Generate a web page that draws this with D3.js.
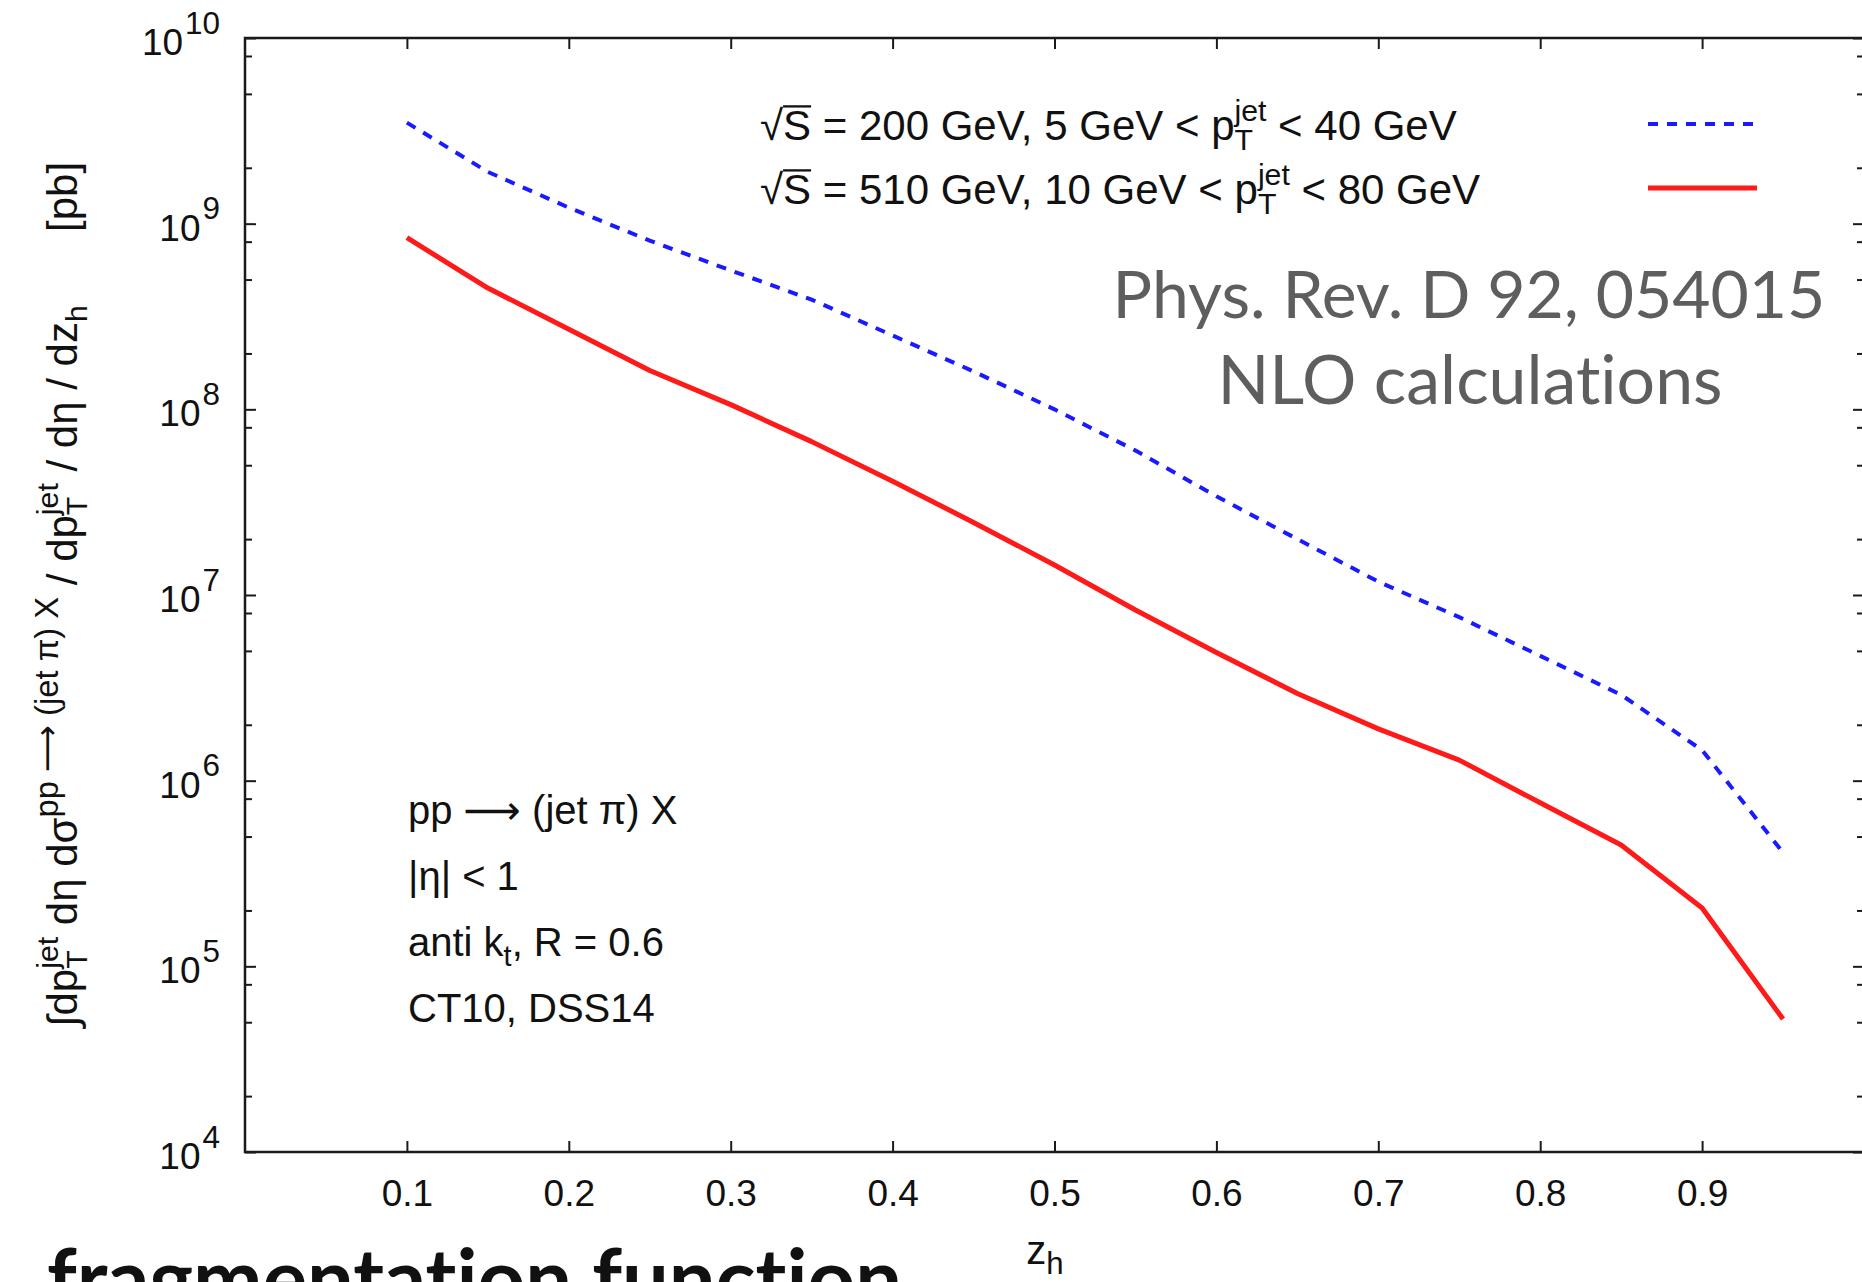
<!DOCTYPE html>
<html>
<head>
<meta charset="utf-8">
<script src="https://cdn.jsdelivr.net/npm/d3@7"></script>
<style>
  html, body { margin: 0; padding: 0; background: #fff; }
  svg { display: block; }
  text { white-space: pre; font-variant-ligatures: none; }
  .gp { font-family: "Liberation Sans", Arial, Helvetica, sans-serif; fill: #111; }
  .gill { font-family: Lato, "Open Sans", sans-serif; }
</style>
</head>
<body>
<svg id="chart" width="1862" height="1282"></svg>
<script>
// z_h grid of the NLO calculation
const zh = [0.10, 0.15, 0.20, 0.25, 0.30, 0.35, 0.40, 0.45, 0.50,
            0.55, 0.60, 0.65, 0.70, 0.75, 0.80, 0.85, 0.90, 0.95];

// sqrt(S) = 200 GeV, 5 GeV < pT(jet) < 40 GeV   [pb]
const sigma200 = [3.5e9, 1.9e9, 1.22e9, 8.1e8, 5.6e8, 3.9e8, 2.5e8, 1.6e8, 1.0e8,
                  6.0e7, 3.4e7, 2.0e7, 1.18e7, 7.6e6, 4.7e6, 2.9e6, 1.46e6, 4.1e5];

// sqrt(S) = 510 GeV, 10 GeV < pT(jet) < 80 GeV  [pb]
const sigma510 = [8.4e8, 4.5e8, 2.7e8, 1.62e8, 1.06e8, 6.7e7, 4.1e7, 2.46e7, 1.45e7,
                  8.3e6, 4.9e6, 2.95e6, 1.9e6, 1.29e6, 7.6e5, 4.5e5, 2.06e5, 5.2e4];

const xTicks = [0.1, 0.2, 0.3, 0.4, 0.5, 0.6, 0.7, 0.8, 0.9];
const yTickExponents = [4, 5, 6, 7, 8, 9, 10];
const yMinorMantissas = [2, 5, 8];

const ARROW = {t: "\u27f6", fam: "DejaVu Sans"};
const infoLines = [
  ["pp ", ARROW, " (jet \u03c0) X"],
  ["|\u03b7| < 1"],
  ["anti k", {sub: "t"}, ", R = 0.6"],
  ["CT10, DSS14"]
];

const svg = d3.select("#chart");

const plotL = 245, plotR = 1864, plotT = 38, plotB = 1152;
const x = d3.scaleLinear().domain([0, 1]).range([plotL, plotR]);
const y = d3.scaleLog().domain([1e4, 1e10]).range([plotB, plotT]);

// Text with raised pieces and stacked sub/superscripts, laid out piece by piece.
function rich(parent, segs, o) {
  const size = o.size;
  const g = parent.append("g").attr("class", o.cls || "gp");
  let cx = 0;
  const put = (txt, px, py, fs, fam) => {
    const el = g.append("text").attr("x", px).attr("y", py).attr("font-size", fs).text(txt);
    if (fam) el.attr("font-family", fam);
    return el.node().getComputedTextLength();
  };
  segs.forEach(s => {
    if (typeof s === "string") s = {t: s};
    if (s.t !== undefined) {
      const fs = size * (s.scale || 1);
      const py = -size * (s.raise || 0);
      const w = put(s.t, cx, py, fs, s.fam);
      if (s.over) {
        g.append("line").attr("x1", cx).attr("x2", cx + w)
          .attr("y1", -size * 0.80).attr("y2", -size * 0.80)
          .attr("stroke", "#111").attr("stroke-width", size * 0.055);
      }
      cx += w;
    } else {
      const ss = size * (s.scale || 0.72);
      const x0 = cx + (s.gap || 0);
      let w = 0;
      if (s.sup) w = Math.max(w, put(s.sup, x0, -size * (s.supRaise || 0.45), ss));
      if (s.sub) w = Math.max(w, put(s.sub, x0, size * 0.24, ss));
      cx = x0 + w;
    }
  });
  const shift = o.anchor === "end" ? -cx : o.anchor === "middle" ? -cx / 2 : 0;
  let tr = `translate(${o.x},${o.y})`;
  if (o.rotate) tr += ` rotate(${o.rotate})`;
  tr += ` translate(${shift},0)`;
  g.attr("transform", tr);
  return cx;
}

// ---- tick marks (inward on all four sides) ----
const tickStyle = sel => {
  sel.select(".domain").remove();
  sel.selectAll(".tick line").attr("stroke", "#1a1a1a").attr("stroke-width", 2);
};

const xBottom = d3.axisBottom(x).tickValues(xTicks).tickSize(-11).tickPadding(28)
  .tickFormat(d3.format(".1f"));
const gxb = svg.append("g").attr("transform", `translate(0,${plotB})`).call(xBottom).call(tickStyle);
gxb.selectAll(".tick text")
  .attr("font-size", 37).attr("fill", "#111")
  .attr("font-family", "Liberation Sans, Arial, sans-serif")
  .attr("dy", "0.71em");

svg.append("g").attr("transform", `translate(0,${plotT})`)
  .call(d3.axisTop(x).tickValues(xTicks).tickSize(-11).tickFormat(""))
  .call(tickStyle);

const majorY = yTickExponents.map(e => Math.pow(10, e));
const minorY = [];
yTickExponents.slice(0, -1).forEach(e => yMinorMantissas.forEach(m => minorY.push(m * Math.pow(10, e))));

svg.append("g").attr("transform", `translate(${plotL},0)`)
  .call(d3.axisLeft(y).tickValues(majorY).tickSize(-11).tickFormat("")).call(tickStyle);
svg.append("g").attr("transform", `translate(${plotL},0)`)
  .call(d3.axisLeft(y).tickValues(minorY).tickSize(-7).tickFormat("")).call(tickStyle);
svg.append("g").attr("transform", `translate(${plotR},0)`)
  .call(d3.axisRight(y).tickValues(majorY).tickSize(-11).tickFormat("")).call(tickStyle);
svg.append("g").attr("transform", `translate(${plotR},0)`)
  .call(d3.axisRight(y).tickValues(minorY).tickSize(-7).tickFormat("")).call(tickStyle);

// y tick labels 10^n
yTickExponents.forEach(e => {
  rich(svg, ["10", {sup: String(e), scale: 0.85, supRaise: 0.58, gap: 2}],
       {x: plotL - 25, y: y(Math.pow(10, e)) + 17, size: 37, anchor: "end"});
});

// ---- frame ----
svg.append("rect").attr("x", plotL).attr("y", plotT)
  .attr("width", plotR - plotL).attr("height", plotB - plotT)
  .attr("fill", "none").attr("stroke", "#1a1a1a").attr("stroke-width", 2.5);

// ---- curves ----
const line = d3.line().x(d => x(d[0])).y(d => y(d[1]));
svg.append("path").datum(zh.map((z, i) => [z, sigma510[i]]))
  .attr("d", line).attr("fill", "none").attr("stroke", "#ff1a1a")
  .attr("stroke-width", 5).attr("stroke-linejoin", "round");
svg.append("path").datum(zh.map((z, i) => [z, sigma200[i]]))
  .attr("d", line).attr("fill", "none").attr("stroke", "#1a1aff")
  .attr("stroke-width", 4).attr("stroke-dasharray", "10,9");

// ---- legend ----
rich(svg, ["\u221a", {t: "S", over: true}, " = 200 GeV, 5 GeV < p", {sub: "T", sup: "jet"}, " < 40 GeV"],
     {x: 760, y: 140, size: 42});
rich(svg, ["\u221a", {t: "S", over: true}, " = 510 GeV, 10 GeV < p", {sub: "T", sup: "jet"}, " < 80 GeV"],
     {x: 760, y: 204, size: 42});
svg.append("line").attr("x1", 1648).attr("x2", 1755).attr("y1", 124).attr("y2", 124)
  .attr("stroke", "#1a1aff").attr("stroke-width", 4).attr("stroke-dasharray", "10,9");
svg.append("line").attr("x1", 1648).attr("x2", 1757).attr("y1", 188).attr("y2", 188)
  .attr("stroke", "#ff1a1a").attr("stroke-width", 5);

// ---- process info ----
infoLines.forEach((segs, i) => {
  rich(svg, segs, {x: 408, y: 824 + i * 66, size: 40});
});

// ---- axis titles ----
rich(svg, ["z", {sub: "h", scale: 0.78}], {x: 1045, y: 1264, size: 40, anchor: "middle"});

const SUP = 0.78, RAISE = 0.45;
rich(svg, ["\u222bdp", {sub: "T", sup: "jet"}, " d\u03b7 d\u03c3",
           {t: "pp ", scale: SUP, raise: RAISE},
           {t: "\u27f6", scale: SUP, raise: RAISE, fam: "DejaVu Sans"},
           {t: " (jet \u03c0) X", scale: SUP, raise: RAISE},
           " / dp", {sub: "T", sup: "jet"}, " / d\u03b7 / dz", {sub: "h"}],
     {x: 77, y: 1027, size: 42, rotate: -90});
rich(svg, ["[pb]"], {x: 77, y: 232, size: 42, rotate: -90});

// ---- reference note ----
svg.append("text").attr("class", "gill").attr("x", 1469).attr("y", 318)
  .attr("text-anchor", "middle").attr("font-size", 66)
  .attr("fill", "#5e5e5e").text("Phys. Rev. D 92, 054015");
svg.append("text").attr("class", "gill").attr("x", 1470).attr("y", 404)
  .attr("text-anchor", "middle").attr("font-size", 68)
  .attr("fill", "#5e5e5e").text("NLO calculations");

// ---- caption ----
svg.append("text").attr("class", "gill").attr("x", 47).attr("y", 1308)
  .attr("font-size", 83).attr("font-weight", 700).attr("fill", "#111")
  .text("fragmentation function");
</script>
</body>
</html>
